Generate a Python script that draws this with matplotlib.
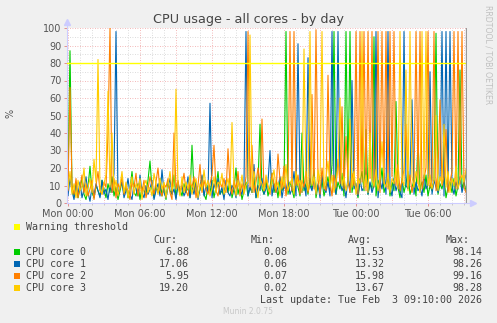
import numpy as np
import matplotlib
matplotlib.use('Agg')
import matplotlib.pyplot as plt
from matplotlib.patches import Rectangle

# 10 minute samples, first one at Sun 23:50, last one at Tue 09:10
core0 = [6, 12, 87, 9, 4, 11, 3, 8, 14, 5, 2, 9, 21, 6, 3, 10, 7, 4, 13, 8,
         3, 11, 6, 15, 4, 9, 2, 7, 12, 5, 10, 3, 8, 18, 6, 4, 11, 2, 9, 7,
         5, 13, 24, 8, 3, 10, 6, 14, 4, 9, 2, 12, 7, 5, 16, 3, 10, 8, 4, 11,
         6, 9, 3, 33, 7, 12, 4, 8, 15, 5, 2, 10, 6, 13, 3, 9, 18, 5, 7, 4,
         11, 6, 14, 3, 8, 20, 5, 10, 2, 7, 12, 4, 9, 6, 15, 3, 11, 45, 8, 5,
         13, 4, 9, 17, 6, 11, 3, 14, 7, 10, 98, 5, 12, 8, 3, 16, 9, 4, 40, 7,
         11, 5, 14, 8, 19, 3, 10, 6, 13, 4, 9, 15, 7, 22, 98, 5, 12, 8, 17, 4,
         98, 10, 98, 6, 14, 9, 3, 12, 18, 7, 42, 5, 11, 8, 95, 4, 13, 9, 20, 6,
         10, 15, 4, 12, 7, 58, 9, 3, 14, 6, 11, 18, 5, 9, 13, 4, 35, 8, 12, 6,
         16, 4, 10, 7, 13, 97, 5, 11, 8, 15, 3, 9, 12, 6, 14, 4, 10, 76, 8, 12, 6.88]
core1 = [9, 4, 14, 7, 2, 10, 5, 12, 3, 8, 15, 6, 1, 9, 4, 11, 7, 3, 13, 5,
         8, 2, 10, 6, 17, 98, 4, 9, 12, 3, 7, 14, 5, 2, 11, 8, 4, 16, 6, 3,
         10, 5, 8, 13, 2, 7, 11, 4, 19, 6, 3, 9, 14, 5, 8, 2, 12, 6, 10, 4,
         7, 15, 3, 9, 5, 12, 2, 8, 16, 4, 10, 6, 57, 3, 11, 7, 14, 5, 9, 2,
         13, 6, 4, 10, 8, 3, 15, 7, 5, 12, 98, 4, 9, 6, 22, 3, 10, 7, 14, 5,
         8, 12, 30, 4, 11, 6, 9, 15, 3, 10, 7, 13, 5, 8, 18, 4, 91, 9, 6, 12,
         4, 83, 10, 7, 14, 5, 11, 3, 16, 8, 6, 12, 4, 98, 9, 5, 98, 13, 7, 10,
         3, 15, 6, 70, 8, 11, 4, 14, 7, 9, 20, 5, 12, 6, 10, 98, 3, 13, 8, 17,
         5, 98, 9, 4, 14, 7, 11, 6, 3, 98, 10, 8, 15, 59, 5, 12, 7, 9, 4, 16,
         8, 11, 75, 5, 13, 9, 6, 14, 98, 4, 98, 7, 98, 10, 5, 12, 8, 15, 6, 11, 17.06]
core2 = [12, 7, 66, 10, 5, 14, 3, 9, 16, 6, 11, 4, 8, 13, 2, 10, 18, 7, 5, 12,
         9, 40, 100, 6, 14, 3, 11, 8, 15, 5, 10, 7, 2, 12, 9, 17, 4, 11, 6, 13,
         3, 8, 15, 10, 5, 12, 20, 7, 4, 11, 9, 14, 6, 2, 40, 8, 13, 5, 10, 17,
         7, 4, 12, 9, 15, 3, 10, 22, 6, 13, 8, 5, 11, 16, 33, 7, 4, 12, 9, 14,
         6, 31, 10, 5, 13, 8, 18, 4, 11, 7, 15, 98, 9, 33, 6, 12, 20, 10, 48, 7,
         14, 9, 5, 17, 11, 6, 28, 13, 8, 21, 4, 12, 98, 7, 98, 10, 16, 5, 13, 9,
         18, 6, 11, 62, 8, 99, 14, 5, 20, 10, 7, 73, 12, 4, 16, 9, 25, 11, 55, 8,
         38, 13, 6, 17, 10, 98, 5, 98, 12, 98, 7, 98, 14, 98, 9, 18, 98, 6, 98, 11,
         98, 8, 98, 15, 98, 10, 22, 7, 13, 19, 45, 9, 16, 6, 12, 98, 11, 98, 8, 14,
         20, 98, 9, 13, 98, 7, 17, 59, 10, 15, 42, 6, 12, 18, 98, 8, 98, 11, 98, 9, 5.95]
core3 = [15, 8, 18, 5, 11, 3, 13, 7, 10, 20, 4, 9, 14, 6, 25, 12, 82, 8, 5, 11,
         16, 64, 9, 40, 7, 13, 4, 10, 18, 6, 12, 3, 9, 15, 5, 11, 8, 14, 2, 10,
         13, 6, 9, 4, 17, 11, 5, 14, 8, 12, 3, 10, 18, 7, 11, 65, 9, 4, 15, 6,
         12, 8, 16, 5, 10, 14, 3, 11, 7, 19, 9, 13, 4, 8, 15, 6, 12, 10, 17, 5,
         9, 14, 7, 46, 11, 4, 13, 8, 16, 5, 10, 12, 96, 6, 18, 9, 3, 14, 11, 7,
         16, 10, 6, 13, 19, 8, 12, 4, 15, 9, 22, 7, 11, 14, 5, 18, 10, 13, 6, 88,
         12, 7, 98, 10, 15, 5, 19, 11, 98, 8, 14, 24, 9, 16, 6, 13, 20, 60, 10, 15,
         7, 12, 48, 9, 18, 5, 14, 11, 98, 8, 16, 6, 40, 13, 10, 19, 7, 15, 35, 12,
         9, 17, 6, 14, 11, 20, 8, 98, 13, 10, 76, 7, 98, 15, 9, 18, 12, 6, 98, 14,
         98, 10, 16, 8, 13, 50, 7, 15, 11, 45, 9, 18, 6, 14, 10, 21, 8, 13, 16, 12, 19.20]

names = ["CPU core 0", "CPU core 1", "CPU core 2", "CPU core 3"]
colors = ["#00CC00", "#0066B3", "#FF8000", "#FFCC00"]
cur = [6.88, 17.06, 5.95, 19.20]
mins = [0.08, 0.06, 0.07, 0.02]
avgs = [11.53, 13.32, 15.98, 13.67]
maxs = [98.14, 98.26, 99.16, 98.28]
warning = 80
xtick_hours = [0, 6, 12, 18, 24, 30]
xtick_labels = ["Mon 00:00", "Mon 06:00", "Mon 12:00", "Mon 18:00", "Tue 00:00", "Tue 06:00"]

W, H = 497, 323
fig = plt.figure(figsize=(W / 100, H / 100), dpi=100, facecolor="#F0F0F0")
ax = fig.add_axes([67 / W, 1 - 203 / H, 400 / W, 175 / H])
ax.set_facecolor("white")
ax.set_xlim(-1 / 12, 33.25)
ax.set_ylim(0, 100)

# grid: grey minor, red major
dot = (0, (1, 2))
for v in range(5, 100, 10):
    ax.axhline(v, color="#D0D0D0", lw=0.6, ls=dot, zorder=0)
for v in range(10, 101, 10):
    ax.axhline(v, color="#F0A0A0", lw=0.6, ls=dot, zorder=0)
for h in range(0, 34):
    c = "#F0A0A0" if h % 3 == 0 else "#D0D0D0"
    ax.axvline(h, color=c, lw=0.6, ls=dot, zorder=0)

for s, col in zip([core0, core1, core2, core3], colors):
    x = (np.arange(len(s)) - 1) / 6.0
    ax.plot(x, s, color=col, lw=0.8, zorder=2)

ax.axhline(warning, color="#FFFF00", lw=1, zorder=3)
ax.axvline(33.2, color="#999999", lw=1, zorder=3)

for sp in ["top", "right"]:
    ax.spines[sp].set_visible(False)
for sp in ["left", "bottom"]:
    ax.spines[sp].set_color("#CCCCFF")
    ax.spines[sp].set_linewidth(0.8)
ax.plot([0, 0], [1, 1.03], color="#CCCCFF", lw=0.8, transform=ax.transAxes, clip_on=False)
ax.plot([1, 1.012], [0, 0], color="#CCCCFF", lw=0.8, transform=ax.transAxes, clip_on=False)
ax.plot([0], [1.035], marker="^", ms=4, color="#CCCCFF", transform=ax.transAxes, clip_on=False)
ax.plot([1.015], [0], marker=">", ms=4, color="#CCCCFF", transform=ax.transAxes, clip_on=False)

ax.set_yticks(range(0, 101, 10))
ax.set_xticks(xtick_hours)
ax.set_xticklabels(xtick_labels)
ax.set_xticks(range(0, 34), minor=True)
ax.tick_params(which="major", length=2, width=0.6, color="#E08080", labelcolor="#555555",
               labelsize=7, pad=2)
ax.tick_params(which="minor", length=1.5, width=0.6, color="#C0C0C0")

fig.text(0.5, 1 - 19 / H, "CPU usage - all cores - by day", ha="center", va="center",
         fontsize=9.2, color="#444444")
fig.text(10 / W, 1 - 113 / H, "%", rotation=90, ha="center", va="center", fontsize=7, color="#555555")
fig.text(488 / W, 1 - 5 / H, "RRDTOOL / TOBI OETIKER", rotation=270, ha="center", va="top",
         fontsize=5.6, color="#C0C0C0")

# legend
mono = dict(family="DejaVu Sans Mono", fontsize=7.2, color="#444444", va="center")
def fy(y):
    return 1 - y / H

fig.patches.append(Rectangle((14 / W, fy(230)), 6 / W, 6 / H, transform=fig.transFigure,
                             color="#FFFF00", lw=0))
fig.text(26 / W, fy(227), "Warning threshold", **mono)
for xr, lab in zip([177, 275, 372, 470], ["Cur:", "Min:", "Avg:", "Max:"]):
    fig.text(xr / W, fy(240), lab, ha="right", **mono)
for k in range(4):
    yy = 252 + 12 * k
    fig.patches.append(Rectangle((14 / W, fy(yy + 3)), 6 / W, 6 / H, transform=fig.transFigure,
                                 color=colors[k], lw=0))
    fig.text(26 / W, fy(yy), names[k], **mono)
    for xr, v in zip([189, 287, 385, 482], [cur[k], mins[k], avgs[k], maxs[k]]):
        fig.text(xr / W, fy(yy), "%.2f" % v, ha="right", **mono)
fig.text(482 / W, fy(300), "Last update: Tue Feb  3 09:10:00 2026", ha="right", **mono)
fig.text(248 / W, fy(312), "Munin 2.0.75", ha="center", va="center", fontsize=5.5, color="#C8C8C8")

fig.savefig("out.png", dpi=100, facecolor=fig.get_facecolor())
